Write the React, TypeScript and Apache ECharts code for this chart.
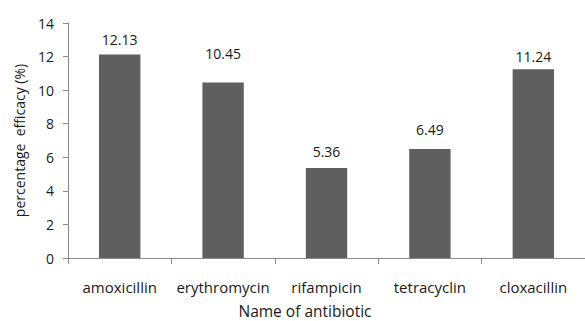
import React, { useEffect, useRef } from "react";
import * as echarts from "echarts";

const categories = ["amoxicillin", "erythromycin", "rifampicin", "tetracyclin", "cloxacillin"];
const efficacy = [12.13, 10.45, 5.36, 6.49, 11.24];
const yTicks = [0, 2, 4, 6, 8, 10, 12, 14];

const FONT = "'Open Sans', 'Liberation Sans', sans-serif";

export default function App() {
  const ref = useRef<HTMLDivElement>(null);
  useEffect(() => {
    if (!ref.current) return;
    const chart = echarts.init(ref.current, null, { renderer: "svg" });
    const labelGaps = [8, 22, 10, 13, 6];
    chart.setOption({
      animation: false,
      backgroundColor: "#ffffff",
      grid: { left: 68, top: 23, bottom: 63, width: 532 },
      xAxis: {
        type: "category",
        data: categories,
        boundaryGap: true,
        axisLine: { lineStyle: { color: "#8c8c8c", width: 1 } },
        axisTick: { show: true, length: 6, alignWithLabel: false, lineStyle: { color: "#8c8c8c" } },
        axisLabel: { color: "#1a1a1a", fontFamily: FONT, fontSize: 15, margin: 21, interval: 0 },
      },
      yAxis: {
        type: "value",
        min: yTicks[0],
        max: yTicks[yTicks.length - 1],
        interval: 2,
        name: "percentage  efficacy (%)",
        nameLocation: "middle",
        nameGap: 42,
        nameTextStyle: { color: "#1a1a1a", fontFamily: FONT, fontSize: 14 },
        splitLine: { show: false },
        axisLine: { show: true, lineStyle: { color: "#8c8c8c", width: 1 } },
        axisTick: { show: true, length: 5, lineStyle: { color: "#8c8c8c" } },
        axisLabel: { color: "#1a1a1a", fontFamily: FONT, fontSize: 14, margin: 14 },
      },
      graphic: [
        {
          type: "text",
          x: 305,
          y: 311,
          style: {
            text: "Name of antibiotic",
            fill: "#1a1a1a",
            font: `15.5px ${FONT}`,
            align: "center",
            verticalAlign: "middle",
          },
        },
      ],
      series: [
        {
          type: "bar",
          barWidth: "40%",
          itemStyle: { color: "#5f5f5f" },
          data: efficacy.map((v, i) => ({
            value: v,
            label: { distance: labelGaps[i] },
          })),
          label: {
            show: true,
            position: "top",
            color: "#1a1a1a",
            fontFamily: FONT,
            fontSize: 14,
            formatter: (p: any) => p.value.toFixed(2),
          },
        },
      ],
    });
    return () => chart.dispose();
  }, []);
  return (
    <div
      ref={ref}
      style={{ position: "fixed", left: 0, top: 0, width: 585, height: 321 }}
    />
  );
}
